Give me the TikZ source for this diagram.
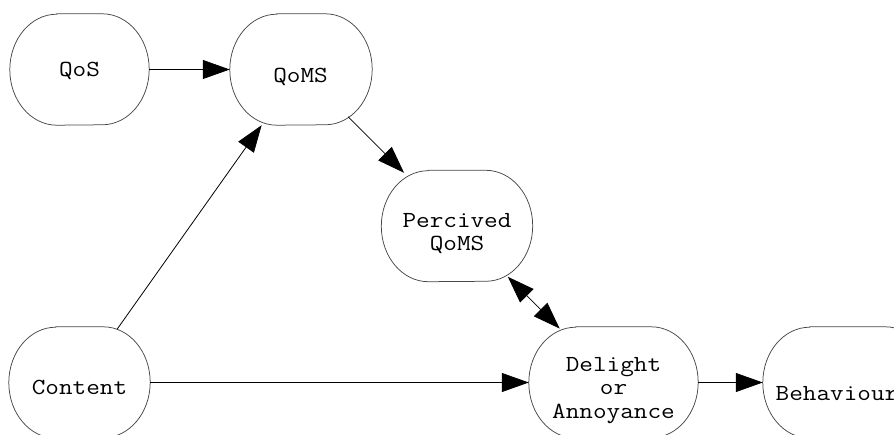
\documentclass[tikz,border=0pt]{standalone}
\usepackage{fontspec}
\newfontfamily\diagmono[FakeStretch=1.15]{Latin Modern Mono}
\usetikzlibrary{arrows.meta}
% outline with elliptical ends around an (invisible) box node
\newcommand\stateoutline[1]{%
  \draw[border] ([xshift=47pt]#1.north west) -- ([xshift=-47pt]#1.north east)
    arc[start angle=90, end angle=-90, x radius=47pt, y radius=55.5pt]
    -- ([xshift=47pt]#1.south west)
    arc[start angle=270, end angle=90, x radius=47pt, y radius=55.5pt] -- cycle;}
\begin{document}
\begin{tikzpicture}[x=1pt,y=-1pt,
  state/.style={minimum height=111pt, inner sep=0pt},
  border/.style={draw=black!72, line width=0.75pt},
  lbl/.style={font=\diagmono\fontsize{23}{23}\selectfont, anchor=base,
    inner sep=0pt, text=black},
  flow/.style={line width=0.8pt, -{Triangle[length=27pt,width=19pt]}},
  both/.style={line width=0.8pt,
    {Triangle[length=27pt,width=19pt]}-{Triangle[length=27pt,width=19pt]}},
]
\useasboundingbox (0,0) rectangle (894,435);
\clip (0,0) rectangle (894,435);

% states
\node[state, minimum width=139pt] (qos)     at (79.5,69.5)  {};
\node[state, minimum width=142pt] (qoms)    at (301,69.5)   {};
\node[state, minimum width=151pt] (perc)    at (457,226)    {};
\node[state, minimum width=141pt] (content) at (79.5,382.5) {};
\node[state, minimum width=169pt] (delight) at (613.5,382.5){};
\node[state, minimum width=169pt] (behav)   at (847.5,382.5){};
\foreach \n in {qos,qoms,perc,content,delight,behav}{\stateoutline{\n}}

% labels
\node[lbl] (qos-t)      at (79.5,77)   {QoS};
\node[lbl] (qoms-t)     at (300.5,83)  {QoMS};
\node[lbl] (perc-t1)    at (457,228)   {Percived};
\node[lbl] (perc-t2)    at (457,251)   {QoMS};
\node[lbl] (content-t)  at (79.5,395)  {Content};
\node[lbl] (delight-t1) at (613.5,372) {Delight};
\node[lbl] (delight-t2) at (613.5,395) {or};
\node[lbl] (delight-t3) at (613.5,418) {Annoyance};
\node[lbl] (behav-t)    at (837,400)   {Behaviour};

% influences (negative shortening reaches the curved outline)
\draw[flow] (qos) -- (qoms);
\draw[flow, shorten <=-3.1pt] (content) -- (qoms);
\draw[flow, shorten <=-12pt, shorten >=-3.5pt] (qoms) -- (perc);
\draw[flow] (content) -- (delight);
\draw[both, shorten <=-7pt, shorten >=-2.5pt] (perc) -- (delight);
\draw[flow] (delight) -- (behav);
\end{tikzpicture}
\end{document}
